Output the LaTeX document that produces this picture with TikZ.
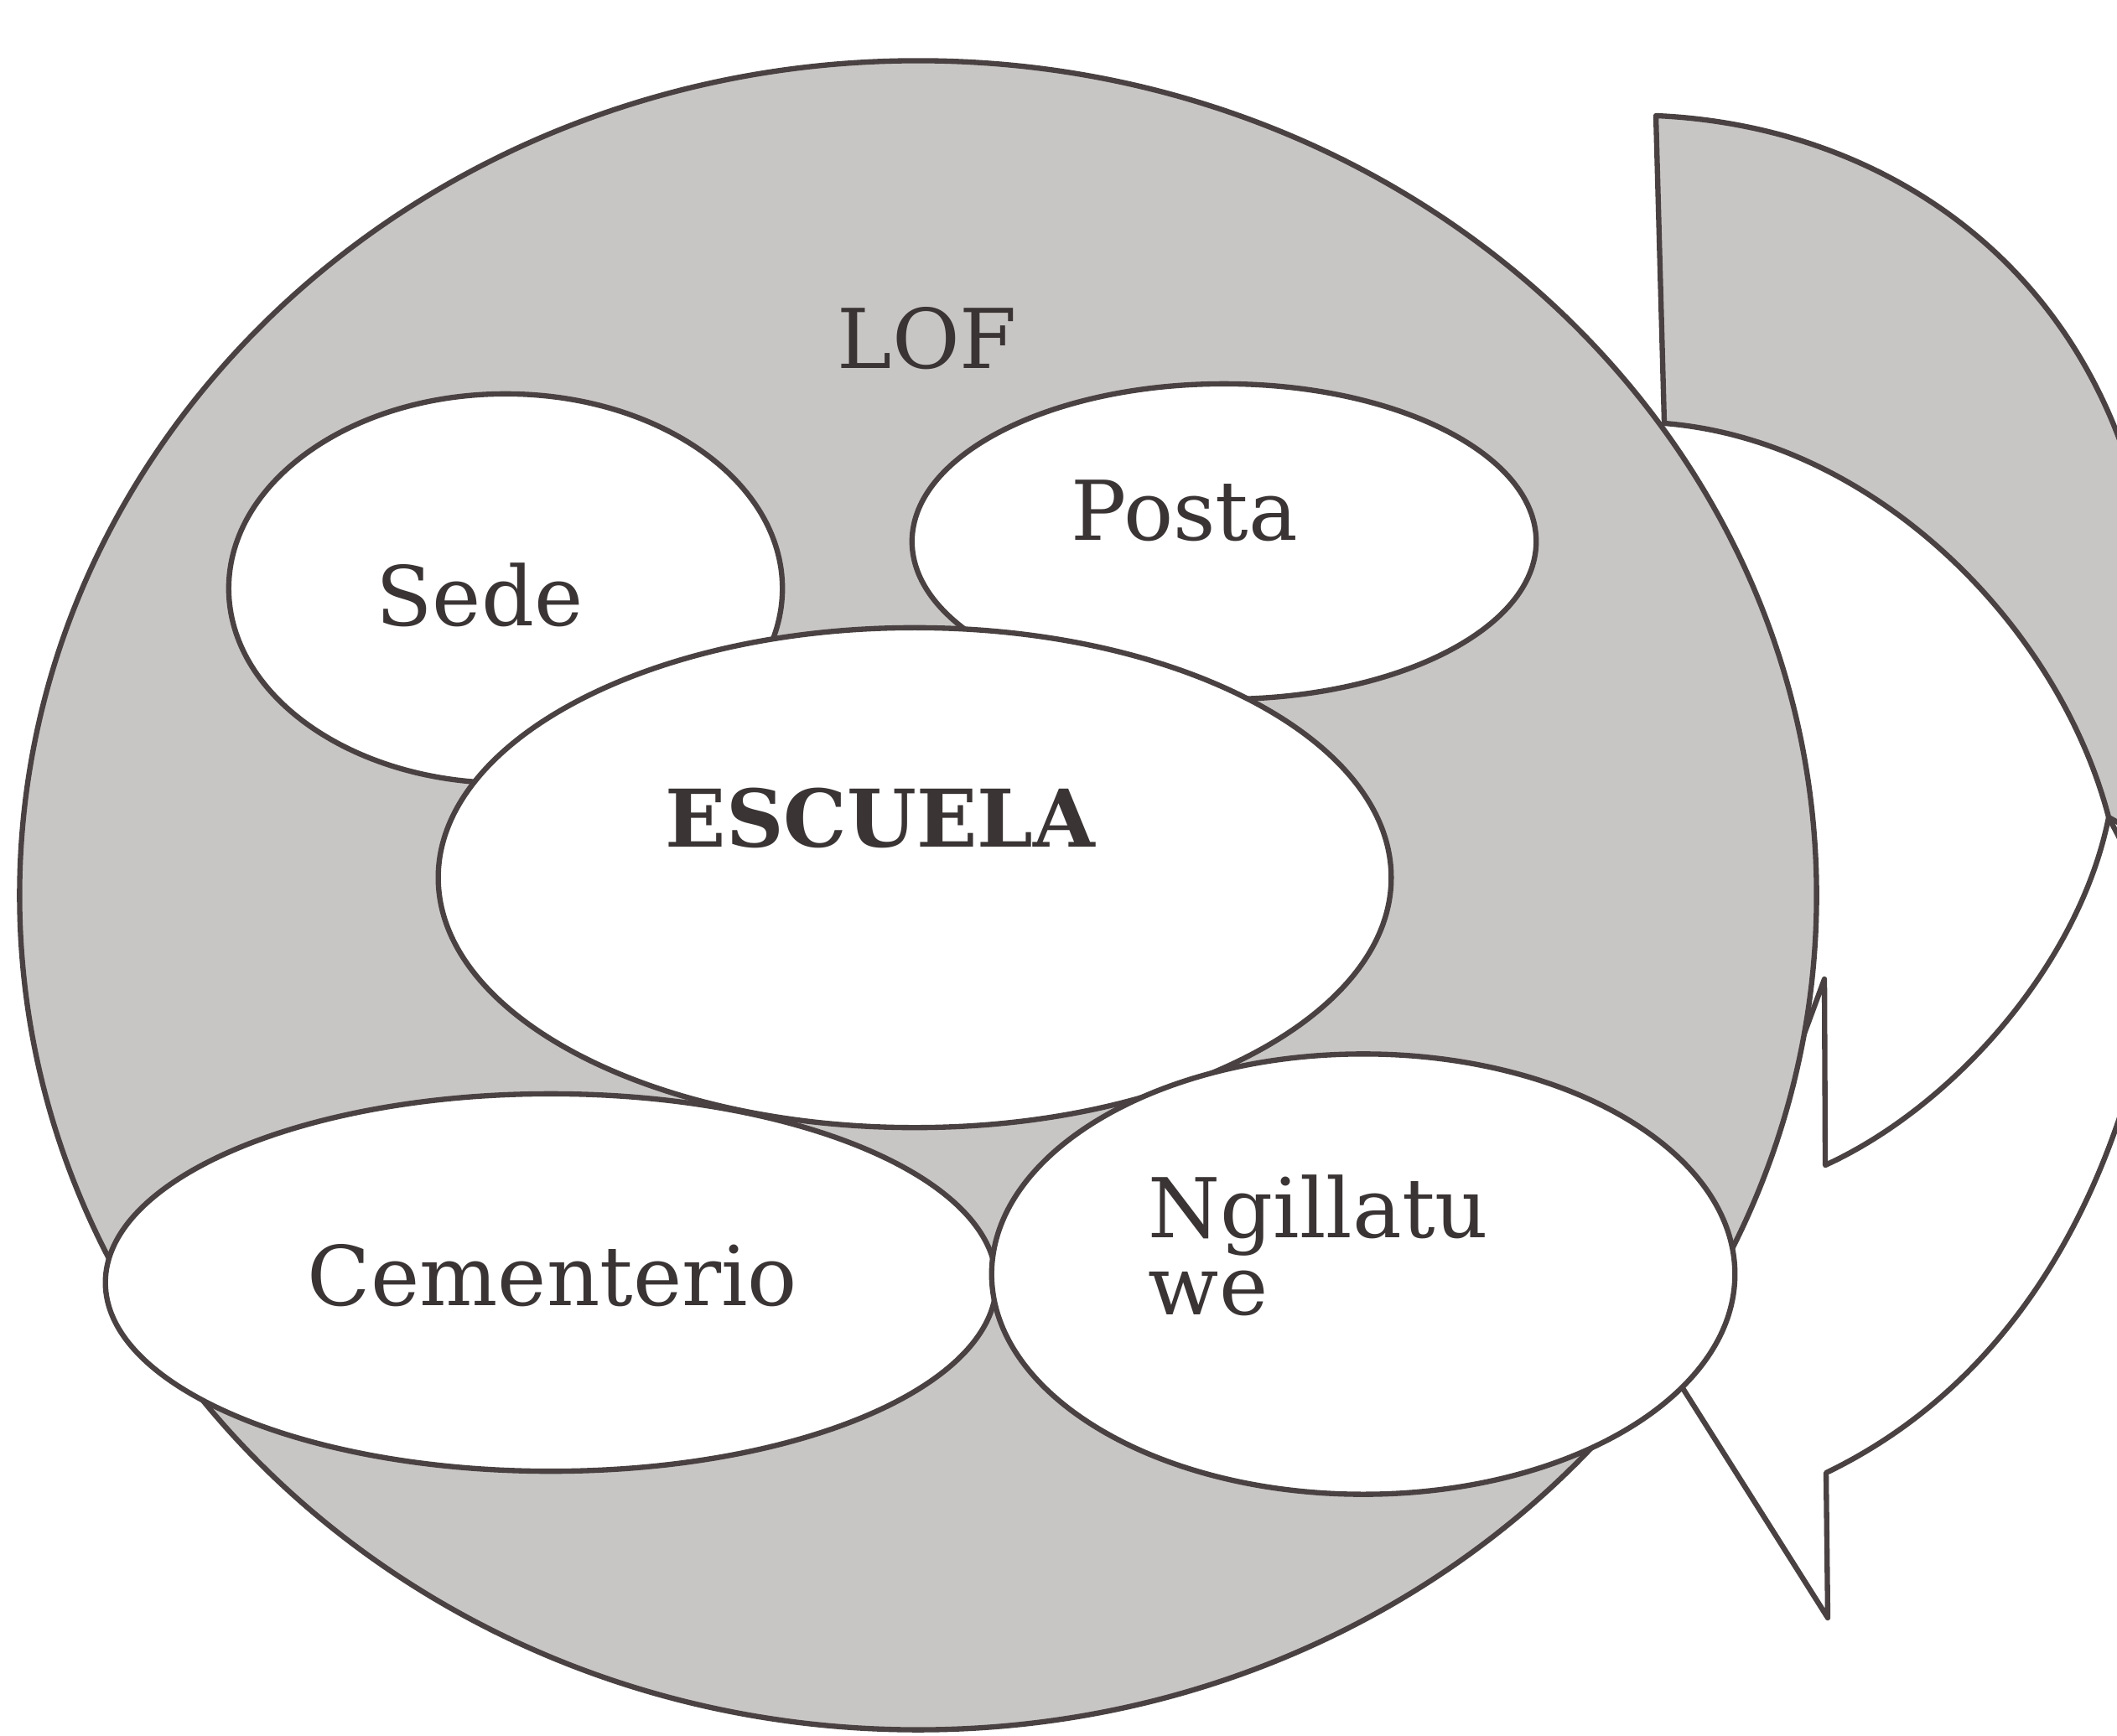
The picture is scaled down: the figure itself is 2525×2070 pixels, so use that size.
\documentclass[tikz,border=0pt]{standalone}
\usepackage{fontspec}
\setmainfont{DejaVu Serif}
\usetikzlibrary{shapes.geometric}
\definecolor{inkc}{RGB}{74,66,66}
\definecolor{shade}{RGB}{200,198,196}
\definecolor{txt}{RGB}{58,52,52}
\tikzset{
  outline/.style={draw=inkc, line width=1.8pt, line join=round},
  region/.style={ellipse, outline, fill=white, inner sep=0pt},
  lbl/.style={text=txt, font=\fontsize{28}{26}\selectfont, inner sep=0pt},
}
\begin{document}
\begin{tikzpicture}[x=0.01cm,y=-0.01cm]
\useasboundingbox (0,0) rectangle (2525,2070);
\begin{scope}
\clip (0,0) rectangle (2525,2070);
% curved arrow: back band
\path[outline, fill=shade] (1975,138) .. controls (2250,150) and (2500,320) .. (2560,640)
  .. controls (2580,760) and (2580,900) .. (2560,1000) -- (2515,975)
  .. controls (2455,745) and (2235,525) .. (1985,505) -- cycle;
% curved arrow: front face with head
\path[outline, fill=white] (2515,975) -- (2580,1100)
  .. controls (2540,1420) and (2400,1650) .. (2178,1757)
  -- (2180,1930) -- (2000,1645) -- (2176,1168) -- (2177,1390)
  .. controls (2330,1320) and (2480,1150) .. (2515,975) -- cycle;
\end{scope}
% big region
\node[ellipse, outline, fill=shade, inner sep=0pt, minimum width=21.42cm, minimum height=19.90cm] (lof) at (1095,1068) {};
\node[region, minimum width=6.60cm, minimum height=4.64cm] (sede) at (603,702) {};
\node[region, minimum width=7.44cm, minimum height=3.76cm] (posta) at (1460,646) {};
\node[region, minimum width=11.36cm, minimum height=5.96cm] (escuela) at (1091,1047) {};
\node[region, minimum width=10.62cm, minimum height=4.50cm] (cement) at (657,1530) {};
\node[region, minimum width=8.86cm, minimum height=5.25cm] (ngilla) at (1626,1520) {};
% labels
\node[lbl] (lofT) at (1106,404) {LOF};
\node[lbl] (sedeT) at (572,710) {Sede};
\node[lbl] (postaT) at (1413,609) {Posta};
\node[lbl, font=\fontsize{27}{26}\selectfont\bfseries] (escuelaT) at (1050,976) {ESCUELA};
\node[lbl] (cementT) at (659,1522) {Cementerio};
\node[lbl, align=left, anchor=base west] (ngillaT) at (1369,1568) {Ngillatu\\we};
\end{tikzpicture}
\end{document}
